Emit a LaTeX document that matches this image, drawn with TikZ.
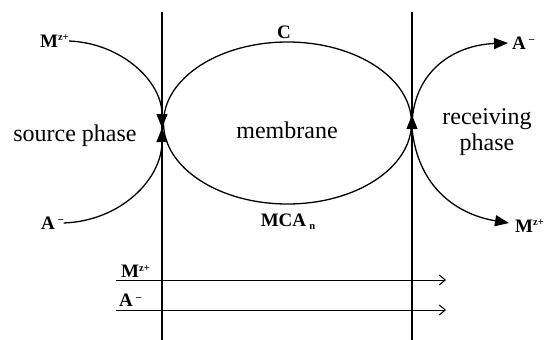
\documentclass[tikz,border=0pt]{standalone}
\usepackage{fontspec}
\setmainfont{Liberation Serif}
\newfontfamily\tms{Liberation Serif}[Ligatures=TeX]
\usetikzlibrary{arrows.meta}
\newcommand{\ionsup}[1]{\raisebox{6.5pt}{\fontsize{10.5}{10.5}\selectfont #1}}
\newcommand{\ionsub}[1]{\raisebox{-3pt}{\fontsize{10.5}{10.5}\selectfont #1}}
\begin{document}
\begin{tikzpicture}[x=1pt,y=-1pt,
  big/.style={font=\tms\fontsize{24}{26}\selectfont, align=center, inner sep=0pt},
  ion/.style={font=\tms\fontsize{19}{21}\selectfont\bfseries, inner sep=0pt},
  wall/.style={line width=1.8pt},
  flow/.style={line width=1.3pt},
  tipped/.style={-{Triangle[length=14pt,width=11pt]}},
  thinarrow/.style={line width=1pt,-{Straight Barb[length=6pt,width=10pt]}},
]
\useasboundingbox (0,0) rectangle (547,340);
% walls
\coordinate (lt) at (162,12); \coordinate (lb) at (162,340);
\coordinate (rt) at (412,12); \coordinate (rb) at (412,340);
\draw[wall] (lt) -- (lb);
\draw[wall] (rt) -- (rb);
% membrane ellipse (carrier)
\coordinate (ec) at (287.5,123);
\draw[flow] (ec) ellipse [x radius=124pt, y radius=81pt];
% labels
\node[big] (src) at (75,136) {source phase};
\node[big] (mem) at (287,130) {membrane};
\node[big] (rec) at (487,132) {receiving\\phase};
\node[ion] (c) at (284,32) {C};
\node[ion] (mca) at (288,222) {MCA\,\ionsub{n}};
\node[ion,anchor=west] (mzl) at (40,41) {M\ionsup{z+}};
\node[ion,anchor=west] (al) at (41,223) {A\,\ionsup{\textendash}};
\node[ion,anchor=west] (ar) at (512,43) {A\,\ionsup{\textendash}};
\node[ion,anchor=west] (mzr) at (515,226) {M\ionsup{z+}};
% junctions
\coordinate (jl) at (162,128);
\coordinate (jr) at (412,115);
\coordinate (jrb) at (412,134);
\coordinate (arend) at (508,43);
\coordinate (mzrend) at (509,223);
% source side
\draw[flow,tipped] (mzl.east) .. controls (121,43) and (162,81) .. (jl);
\draw[flow,tipped] (al.east) .. controls (121,221) and (162,179) .. (jl);
% receiving side
\draw[flow,tipped] (jrb) -- (jr);
\draw[flow,tipped] (412,124) .. controls (414,70) and (455,45) .. (arend);
\draw[flow,tipped] (412,128) .. controls (418,190) and (460,215) .. (mzrend);
% overall transport arrows
\coordinate (b1s) at (116,280); \coordinate (b1e) at (446,280);
\coordinate (b2s) at (116,310); \coordinate (b2e) at (446,310);
\draw[thinarrow] (b1s) -- (b1e);
\draw[thinarrow] (b2s) -- (b2e);
\node[ion,anchor=south west] (mzb) at (121,278) {M\ionsup{z+}};
\node[ion,anchor=south west] (ab) at (119,307) {A\,\ionsup{\textendash}};
\end{tikzpicture}
\end{document}
